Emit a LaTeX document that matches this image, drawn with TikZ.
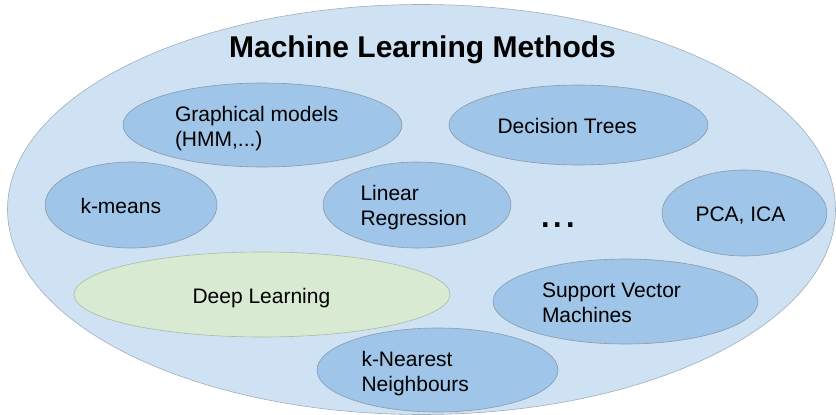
\documentclass[tikz,border=0pt]{standalone}
\usepackage{fontspec}
\setmainfont{Liberation Sans}
\usetikzlibrary{shapes.geometric}
\definecolor{outerfill}{HTML}{CFE2F3}
\definecolor{innerfill}{HTML}{9FC5E8}
\definecolor{greenfill}{HTML}{D9EAD3}
\definecolor{edgegray}{HTML}{8A9AAA}
\definecolor{edgegreen}{HTML}{A9BCA2}
\newcommand{\mystrutA}{\rule{0pt}{16pt}}
\begin{document}
\begin{tikzpicture}[x=1pt,y=-1pt,
  ellbase/.style={ellipse, inner sep=0pt, outer sep=0pt, line width=0.6pt},
  outerell/.style={ellbase, fill=outerfill, draw=edgegray!80},
  innerell/.style={ellbase, fill=innerfill, draw=edgegray},
  greenell/.style={ellbase, fill=greenfill, draw=edgegreen},
  lbl/.style={inner sep=0pt, outer sep=0pt, align=left, font=\fontsize{21}{25.5}\selectfont},
  titlefont/.style={inner sep=0pt, font=\fontsize{30}{36}\selectfont\bfseries}]
\useasboundingbox (0,0) rectangle (836,415);
% outer
\node[outerell, minimum width=828pt, minimum height=410pt] (outer) at (421.5,209.5) {};
\node[titlefont, anchor=base] (title) at (422.5,57) {Machine Learning Methods};
% inner ellipses
\node[innerell, minimum width=279pt, minimum height=84pt] (graph) at (262.5,125) {};
\node[innerell, minimum width=259pt, minimum height=80pt] (dtree) at (578.5,125) {};
\node[innerell, minimum width=172pt, minimum height=86pt] (kmeans) at (131,205) {};
\node[innerell, minimum width=188pt, minimum height=86pt] (linreg) at (417,205) {};
\node[innerell, minimum width=165pt, minimum height=86pt] (pca) at (744.5,213) {};
\node[greenell, minimum width=376pt, minimum height=85pt] (deep) at (262,294.5) {};
\node[innerell, minimum width=265pt, minimum height=85pt] (svm) at (625.5,301.5) {};
\node[innerell, minimum width=241pt, minimum height=84pt] (knn) at (437.5,370) {};
% labels
\node[lbl, anchor=north west] (graph-t) at (175,105) {\mystrutA Graphical models\\(HMM,...)};
\node[lbl, anchor=base west] (dtree-t) at (497.5,133) {Decision Trees};
\node[lbl, anchor=base west] (kmeans-t) at (80.5,213) {k-means};
\node[lbl, anchor=north west] (linreg-t) at (360.5,184) {\mystrutA Linear\\Regression};
\node[lbl, anchor=base west] (pca-t) at (695.5,221) {PCA, ICA};
\node[lbl, anchor=base west] (deep-t) at (192.5,303) {Deep Learning};
\node[lbl, anchor=north west] (svm-t) at (542,281) {\mystrutA Support Vector\\Machines};
\node[lbl, anchor=north west] (knn-t) at (361.5,350) {\mystrutA k-Nearest\\Neighbours};
\node[inner sep=0pt, anchor=base west, font=\fontsize{45}{50}\selectfont] (dots) at (539,227) {...};
\end{tikzpicture}
\end{document}
